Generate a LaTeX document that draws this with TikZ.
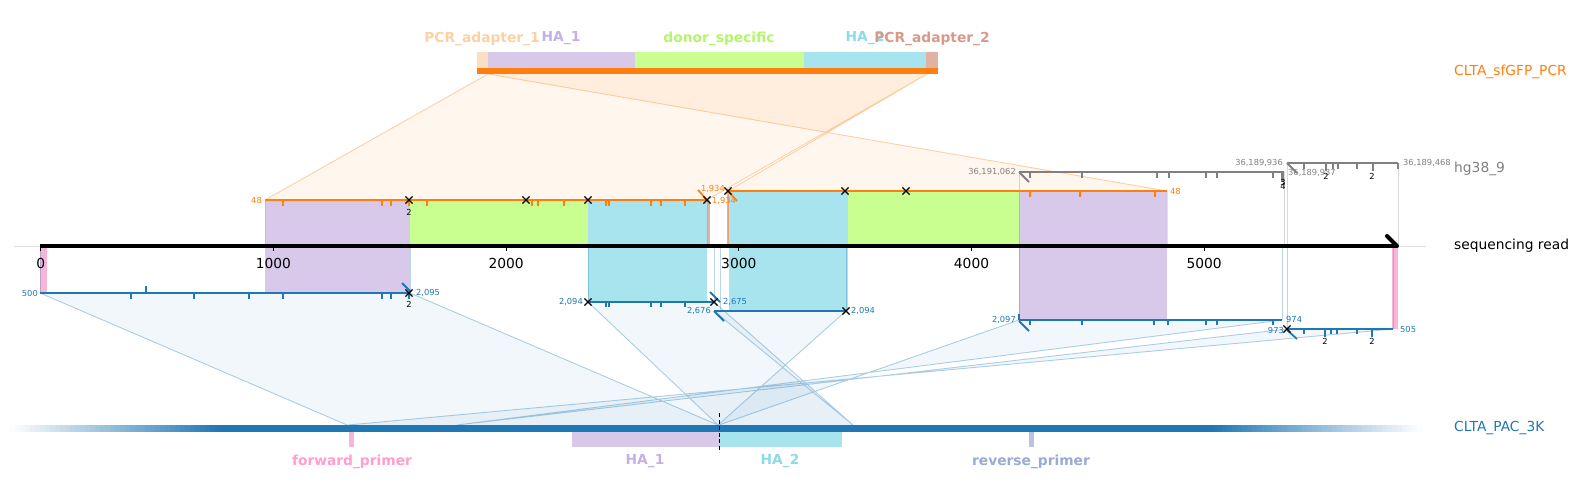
\documentclass[tikz,border=0pt]{standalone}
\usepackage{fontspec}
\setmainfont{DejaVu Sans}
\usetikzlibrary{shapes.misc}
\definecolor{cOr}{HTML}{FF7F0E}
\definecolor{cBl}{HTML}{1F77B4}
\definecolor{cGr}{HTML}{808080}
\definecolor{cLav}{HTML}{D8C8EA}
\definecolor{cGrn}{HTML}{C8FF90}
\definecolor{cCyan}{HTML}{A8E4EE}
\definecolor{cPeach}{HTML}{FBDFC2}
\definecolor{cRose}{HTML}{E0B2A6}
\definecolor{cPink}{HTML}{F7B6D8}
\definecolor{cRev}{HTML}{B8C4E2}
\definecolor{tPeach}{HTML}{FDD0A2}
\definecolor{tLav}{HTML}{C5B0E5}
\definecolor{tGrn}{HTML}{B5F56A}
\definecolor{tCyan}{HTML}{8DDBE8}
\definecolor{tRose}{HTML}{D9998A}
\definecolor{tPink}{HTML}{FF9ECF}
\definecolor{tRev}{HTML}{9AAAD6}
\begin{document}
\begin{tikzpicture}[x=1pt,y=-1pt,
  big/.style={font=\fontsize{13.8}{16}\selectfont, inner sep=0pt},
  bigb/.style={font=\fontsize{13.8}{16}\selectfont\bfseries, inner sep=0pt},
  small/.style={font=\fontsize{8.3}{10}\selectfont, inner sep=0pt},
  xmark/.style={draw=black, cross out, line width=1.1pt, minimum size=6pt, inner sep=0pt},
  oseg/.style={draw=cOr, line width=2.8pt},
  bseg/.style={draw=cBl, line width=2.8pt},
  gseg/.style={draw=cGr, line width=2.4pt},
  otick/.style={draw=cOr, line width=1.6pt},
  btick/.style={draw=cBl, line width=1.6pt},
  gtick/.style={draw=cGr, line width=1.8pt},
  ofill/.style={fill=cOr, fill opacity=0.07},
  oedge/.style={draw=cOr, draw opacity=0.35, line width=0.9pt},
  bfill/.style={fill=cBl, fill opacity=0.06},
  bedge/.style={draw=cBl, draw opacity=0.35, line width=0.9pt},
  obox/.style={draw=cOr, draw opacity=0.3, line width=0.8pt},
  bbox/.style={draw=cBl, draw opacity=0.3, line width=0.8pt},
  gbox/.style={draw=cGr, draw opacity=0.3, line width=0.8pt},
  brk/.style={line width=1.8pt}
]
\useasboundingbox (0,0) rectangle (1579,500);

% ---------- coordinates ----------
\coordinate (tL) at (488,74);  \coordinate (tR) at (927,74);
\coordinate (o1a) at (265,200); \coordinate (o1b) at (707,200);
\coordinate (o2a) at (728,191); \coordinate (o2b) at (1167,191);
\coordinate (gAa) at (1019,172); \coordinate (gAb) at (1284,172);
\coordinate (gBa) at (1287,163); \coordinate (gBb) at (1398,163);
\coordinate (b1a) at (40,293);  \coordinate (b1b) at (410,293);
\coordinate (b2a) at (588,302); \coordinate (b2b) at (714,302);
\coordinate (b3a) at (714,311); \coordinate (b3b) at (846,311);
\coordinate (b4a) at (1019,320); \coordinate (b4b) at (1282,320);
\coordinate (b5a) at (1287,329); \coordinate (b5b) at (1393,329);
\coordinate (p500) at (347,425); \coordinate (p2095) at (718,425);
\coordinate (p2094) at (718,425); \coordinate (p2675) at (853,425);
\coordinate (p2676) at (853,425); \coordinate (p2097) at (719,425);
\coordinate (p974) at (457,425); \coordinate (p973) at (457,425);
\coordinate (p505) at (348,425);

% ---------- orange projection polygons ----------
\fill[ofill] (o1a) -- (o1b) -- (tR) -- (tL) -- cycle;
\fill[ofill] (o2a) -- (o2b) -- (tL) -- (tR) -- cycle;
\draw[oedge] (o1a) -- (tL) (o1b) -- (tR) (o2a) -- (tR) (o2b) -- (tL);

% ---------- blue projection polygons ----------
\fill[bfill] (b1a) -- (b1b) -- (p2095) -- (p500) -- cycle;
\fill[bfill] (b2a) -- (b2b) -- (p2675) -- (p2094) -- cycle;
\fill[bfill] (b3a) -- (b3b) -- (p2094) -- (p2676) -- cycle;
\fill[bfill] (b4a) -- (b4b) -- (p974) -- (p2097) -- cycle;
\fill[bfill] (b5a) -- (b5b) -- (p505) -- (p973) -- cycle;
\draw[bedge] (b1a) -- (p500) (b1b) -- (p2095)
             (b2a) -- (p2094) (b2b) -- (p2675)
             (b3a) -- (p2676) (b3b) -- (p2094)
             (b4a) -- (p2097) (b4b) -- (p974)
             (b5a) -- (p973) (b5b) -- (p505);

% ---------- feature fills on the read ----------
\fill[cLav] (265,200) rectangle (410,293);
\fill[cGrn] (410,200) rectangle (588,246);
\fill[cCyan] (588,200) rectangle (707,302);
\fill[cRose] (707,200) rectangle (709.5,246);
\fill[cRose] (726.5,191) rectangle (729,246);
\fill[cCyan] (729,191) rectangle (848,311);
\fill[cGrn] (848,191) rectangle (1019,246);
\fill[cLav] (1019,191) rectangle (1167,320);
\fill[cPink] (40,246) rectangle (46.5,293);
\fill[cPink] (1392,246) rectangle (1398,329);

% ---------- faint box edges ----------
\draw[obox] (265,200) -- (265,246) (707,200) -- (707,246) (728,191) -- (728,246) (1167,191) -- (1167,246);
\draw[gbox] (1019,172) -- (1019,246) (1284,172) -- (1284,246) (1287,163) -- (1287,246) (1398,163) -- (1398,246);
\draw[bbox] (40,246) -- (40,293) (410,246) -- (410,293) (588,246) -- (588,302) (714,246) -- (714,302)
            (720,246) -- (720,311) (846,246) -- (846,311) (1019,246) -- (1019,320) (1282,246) -- (1282,320)
            (1287,246) -- (1287,329) (1393,246) -- (1393,329);

% ---------- top construct ----------
\fill[cPeach] (477,52) rectangle (488,68);
\fill[cLav] (488,52) rectangle (635,68);
\fill[cGrn] (635,52) rectangle (804,68);
\fill[cCyan] (804,52) rectangle (926,68);
\fill[cRose] (926,52) rectangle (938,68);
\fill[cOr] (477,68) rectangle (938,74);
\node[bigb, text=tPeach] (fa1) at (482,38.5) {PCR\_adapter\_1};
\node[bigb, text=tLav] (fh1) at (561,38.5) {HA\_1};
\node[bigb, text=tGrn] (fds) at (719,38.5) {donor\_specific};
\node[bigb, text=tCyan] (fh2) at (865,38.5) {HA\_2};
\node[bigb, text=tRose] (fa2) at (932,38.5) {PCR\_adapter\_2};

% ---------- sequencing read axis ----------
\draw[black!12, line width=0.8pt] (14,246) -- (1426,246);
\draw[black, line width=4pt] (40,246) -- (1397,246);
\draw[black, line width=4pt, line cap=round] (1387,236) -- (1397,246);
\foreach \u/\t [count=\i] in {40.7/0,273.4/1000,506.1/2000,738.8/3000,971.5/4000,1204.2/5000}{
  \draw[black, line width=1pt] (\u,246) -- (\u,251);
  \node[big] (ax\i) at (\u,263) {\t};
}

% ---------- orange alignment segments ----------
\draw[oseg] (o1a) -- (o1b);
\draw[oseg] (o2a) -- (o2b);
\foreach \x in {283,382,391,409,427,532,538,564,606,609,651,661,685} \draw[otick] (\x,200) -- (\x,205.5);
\foreach \x in {1030,1080,1155} \draw[otick] (\x,191) -- (\x,196.5);
\draw[cOr, brk] (698,190) -- (708,201);
\draw[cOr, brk] (727,190) -- (737,201);

% ---------- grey alignment segments ----------
\draw[gseg] (gAa) -- (gAb);
\draw[gseg] (gBa) -- (gBb);
\foreach \x in {1030,1082,1157,1169,1206,1217,1273} \draw[gtick] (\x,172) -- (\x,178);
\draw[cGr, line width=2.6pt] (1282.5,172) -- (1282.5,182);
\foreach \x in {1304,1333,1338,1357,1398} \draw[gtick] (\x,163) -- (\x,169);
\foreach \x in {1326,1373} \draw[gtick] (\x,163) -- (\x,171);
\draw[cGr, brk] (gAa) -- (1029,182);
\draw[cGr, brk] (gBa) -- (1297,173);

% ---------- blue alignment segments ----------
\draw[bseg] (b1a) -- (b1b);
\draw[bseg] (b2a) -- (b2b);
\draw[bseg] (b3a) -- (b3b);
\draw[bseg] (b4a) -- (b4b);
\draw[bseg] (b5a) -- (b5b);
\foreach \x in {131,194,249,283,382,391,409} \draw[btick] (\x,293) -- (\x,298.5);
\draw[btick] (146,293) -- (146,286);
\foreach \x in {606,609,651,661,685} \draw[btick] (\x,302) -- (\x,307);
\foreach \x in {1030,1082,1154,1168,1206,1217,1273} \draw[btick] (\x,320) -- (\x,325);
\draw[btick] (1019,320) -- (1019,314);
\foreach \x in {1304,1331,1337,1357} \draw[btick] (\x,329) -- (\x,334);
\foreach \x in {1325,1372} \draw[btick] (\x,329) -- (\x,337);
\draw[cBl, brk] (402,283) -- (411,292);
\draw[cBl, brk] (710,292) -- (720,302);
\draw[cBl, brk] (714,311) -- (724,321);
\draw[cBl, brk] (1019,321) -- (1029,331);
\draw[cBl, brk] (1287,330) -- (1297,339);

% ---------- crossing markers ----------
\foreach \x/\y [count=\i] in {409/200,526/200,588/200,707/200,728/191,845/191,906/191,409/293,588/302,714/302,846/311,1287/329}
  \node[xmark] (xm\i) at (\x,\y) {};

% ---------- small coordinate labels ----------
\node[small, text=cOr, anchor=east] (n48a) at (262,200) {48};
\node[small, text=cOr, anchor=west] (n48b) at (1170,191) {48};
\node[small, text=cOr, anchor=east] (n1934a) at (725,189) {1,934};
\node[small, text=cOr, anchor=west] (n1934b) at (712,201) {1,934};
\node[small, text=cBl, anchor=east] (n500) at (38,293) {500};
\node[small, text=cBl, anchor=west] (n2095) at (416,293) {2,095};
\node[small, text=cBl, anchor=east] (n2094a) at (583,302) {2,094};
\node[small, text=cBl, anchor=west] (n2675) at (723,302) {2,675};
\node[small, text=cBl, anchor=east] (n2676) at (711,311) {2,676};
\node[small, text=cBl, anchor=west] (n2094b) at (851,311) {2,094};
\node[small, text=cBl, anchor=east] (n2097) at (1016,320) {2,097};
\node[small, text=cBl, anchor=west] (n974) at (1286,319.5) {974};
\node[small, text=cBl, anchor=east] (n973) at (1284,330) {973};
\node[small, text=cBl, anchor=west] (n505) at (1400,329) {505};
\node[small, text=cGr, anchor=east] (g1) at (1016,172) {36,191,062};
\node[small, text=cGr, anchor=east] (g2) at (1283,163) {36,189,936};
\node[small, text=cGr, anchor=west] (g3) at (1288,173) {36,189,937};
\node[small, text=cGr, anchor=west] (g4) at (1403,163) {36,189,468};
\node[small] (c1) at (409,212.5) {2};
\node[small] (c2) at (409,304) {2};
\node[small] (c3) at (1325,341.5) {2};
\node[small] (c4) at (1372,341.5) {2};
\node[small] (c5) at (1283,182) {3};
\node[small] (c6) at (1283,186) {4};
\node[small] (c7) at (1326,176.5) {2};
\node[small] (c8) at (1372,176.5) {2};

% ---------- CLTA_PAC_3K bar ----------
\foreach \k in {0,...,41}{
  \pgfmathsetmacro{\pc}{100*(\k+0.5)/42}
  \fill[cBl!\pc!white] ({10+5*\k},425) rectangle ({15.3+5*\k},432);
  \fill[cBl!\pc!white] ({1422-5*\k},425) rectangle ({1416.7-5*\k},432);
}
\fill[cBl] (219.5,425) rectangle (1212.5,432);
\fill[cPink] (348.5,432) rectangle (353.5,447);
\fill[cLav] (572,432) rectangle (719,447);
\fill[cCyan] (719,432) rectangle (842,447);
\fill[cRev] (1029,432) rectangle (1034,447);
\draw[black, dashed, line width=1pt, dash pattern=on 4pt off 2.5pt] (719,413) -- (719,452);
\node[bigb, text=tPink] (bf1) at (352,461.5) {forward\_primer};
\node[bigb, text=tLav] (bf2) at (645,461.5) {HA\_1};
\node[bigb, text=tCyan] (bf3) at (780,461.5) {HA\_2};
\node[bigb, text=tRev] (bf4) at (1031,461.5) {reverse\_primer};

% ---------- track names ----------
\node[big, text=cOr, anchor=west] (tn1) at (1454,72) {CLTA\_sfGFP\_PCR};
\node[big, text=cGr, anchor=west] (tn2) at (1454,168.5) {hg38\_9};
\node[big, text=black, anchor=west] (tn3) at (1454,246) {sequencing read};
\node[big, text=cBl, anchor=west] (tn4) at (1454,428.5) {CLTA\_PAC\_3K};
\end{tikzpicture}
\end{document}
